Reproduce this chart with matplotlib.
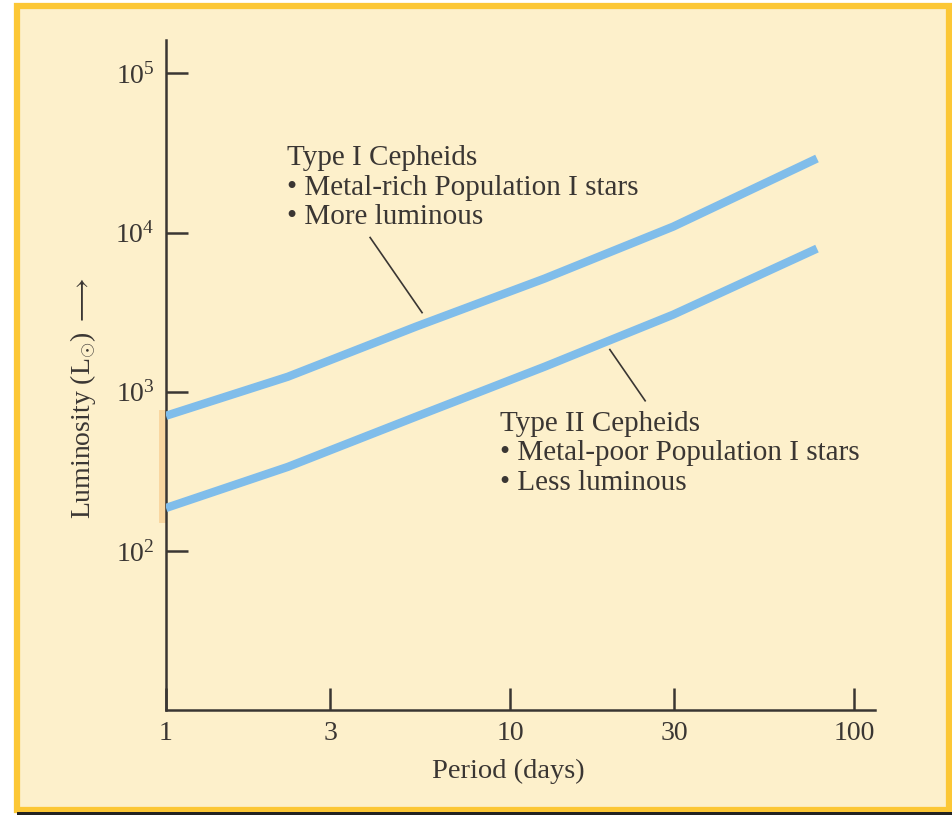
import matplotlib.pyplot as plt
from matplotlib.patches import Rectangle

# period-luminosity curves
period = [1, 2.26, 5.33, 12.6, 29.8, 78]
lum_type1 = [706, 1242, 2565, 5140, 10900, 29200]
lum_type2 = [186, 337, 697, 1436, 3050, 7930]

x_ticks = [1, 3, 10, 30, 100]
x_ticklabels = ['1', '3', '10', '30', '100']
y_ticks = [1e2, 1e3, 1e4, 1e5]
y_ticklabels = [r'$\mathregular{10^{2}}$', r'$\mathregular{10^{3}}$',
                r'$\mathregular{10^{4}}$', r'$\mathregular{10^{5}}$']

type1_text = 'Type I Cepheids\n• Metal-rich Population I stars\n• More luminous'
type2_text = 'Type II Cepheids\n• Metal-poor Population I stars\n• Less luminous'

plt.rcParams['font.family'] = ['Liberation Serif', 'DejaVu Serif']
plt.rcParams['mathtext.fontset'] = 'custom'
plt.rcParams['mathtext.rm'] = 'Liberation Serif'
plt.rcParams['mathtext.it'] = 'Liberation Serif:italic'

bg = '#FDF0CB'
ink = '#3a3633'
blue = '#80BDEA'

fig = plt.figure(figsize=(9.53, 8.15), dpi=100)
fig.patch.set_facecolor('white')

# yellow panel with orange frame
fig.patches.append(Rectangle((17 / 953, 1 - 810 / 815), 932 / 953, 804 / 815,
                             transform=fig.transFigure, facecolor=bg,
                             edgecolor='#FCC735', linewidth=4.5, zorder=-2))
fig.patches.append(Rectangle((17 / 953, 0), 935 / 953, 3 / 815,
                             transform=fig.transFigure, facecolor='#222222',
                             edgecolor='none', zorder=-1))

ax = fig.add_axes([166 / 953, 1 - 710 / 815, (875 - 166) / 953, (710 - 40) / 815])
ax.set_facecolor('none')
ax.set_xscale('log')
ax.set_yscale('log')
ax.set_xlim(1, 115)
ax.set_ylim(10, 10 ** 5.21)

ax.plot(period, lum_type1, color=blue, lw=6, solid_capstyle='butt', zorder=3)
ax.plot(period, lum_type2, color=blue, lw=6, solid_capstyle='butt', zorder=3)

# faint orange band on the axis between the curve starts
ax.plot([0.976, 0.976], [159, 738], color='#F9D7A0', lw=5, clip_on=False, zorder=1)

# leader lines
ax.plot([3.92, 5.55], [9310, 3140], color=ink, lw=1.2)
ax.plot([19.5, 24.7], [1840, 877], color=ink, lw=1.2)

ax.text(2.25, 10 ** 4.55, type1_text, fontsize=21, color=ink, va='top',
        ha='left', linespacing=1.18)
ax.text(9.35, 10 ** 2.88, type2_text, fontsize=21, color=ink, va='top',
        ha='left', linespacing=1.18)

for s in ['top', 'right']:
    ax.spines[s].set_visible(False)
for s in ['left', 'bottom']:
    ax.spines[s].set_color(ink)
    ax.spines[s].set_linewidth(1.8)

ax.minorticks_off()
ax.set_xticks(x_ticks)
ax.set_xticklabels(x_ticklabels)
ax.set_yticks(y_ticks)
ax.set_yticklabels(y_ticklabels)
ax.tick_params(axis='both', direction='in', length=16, width=1.8, color=ink,
               labelcolor=ink, labelsize=20)
ax.tick_params(axis='x', pad=8)
ax.tick_params(axis='y', pad=8)

fig.text(508 / 953, 1 - 771 / 815, 'Period (days)', fontsize=20.5, color=ink,
         ha='center', va='center')
fig.text(83 / 953, 1 - 398 / 815, r'Luminosity (L$_{\odot}$) $\longrightarrow$',
         fontsize=20, color=ink, ha='center', va='center', rotation=90)

fig.savefig('out.png', dpi=100)
